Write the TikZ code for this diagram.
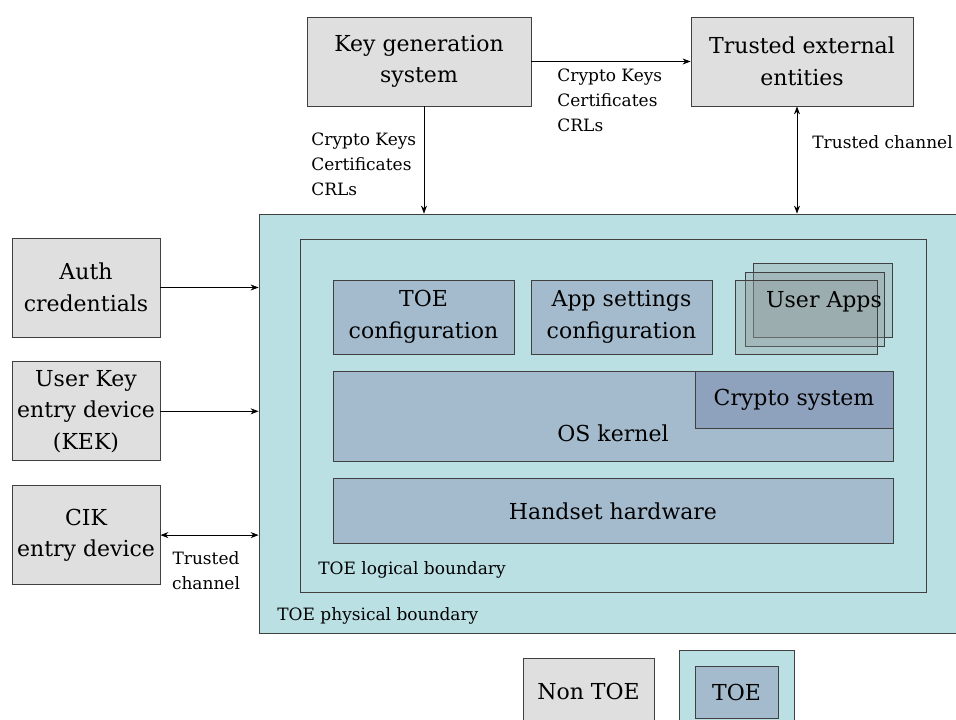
\documentclass[tikz,border=0pt]{standalone}
\usepackage{fontspec}
\setmainfont{DejaVu Serif}
\definecolor{ext}{HTML}{DFDFDF}
\definecolor{phys}{HTML}{BAE0E3}
\definecolor{part}{HTML}{A4BBCE}
\definecolor{cry}{HTML}{8FA2BD}
\definecolor{card}{HTML}{8C9494}
\definecolor{rim}{HTML}{404040}
\usetikzlibrary{
  arrows.meta,     % arrow tips
  positioning      % positions like below of node
}
\tikzset{
    x=1pt, y=-1pt,
    node distance=24pt and 24pt,
    box/.style = {
        rectangle,
        draw=rim,
        line width=0.8pt,
        align=center,
        inner sep=0pt,
        font=\fontsize{22}{31.5}\selectfont
    },
    nontoe/.style = {box, fill=ext},
    toepart/.style = {box, fill=part},
    cryptobox/.style = {box, fill=cry},
    appcard/.style = {box, fill=card, fill opacity=0.3},
    boundary/.style = {rectangle, draw=rim, line width=0.8pt, fill=phys, inner sep=0pt},
    bigtext/.style = {inner sep=0pt, font=\fontsize{22}{31.5}\selectfont},
    lbl/.style = {inner sep=0pt, align=left, font=\fontsize{17}{25}\selectfont},
    ->,        % arrows for all
    >={Stealth[length=8pt,width=6pt]}  % arrow type
}

\begin{document}
\begin{tikzpicture}[line width=0.8pt]
  \useasboundingbox (0,0) rectangle (956,720);

  %% external entities at the top
  \node [nontoe, minimum width=224, minimum height=89] (keygen) at (419,61.5) {Key generation\\system};
  \node [nontoe, minimum width=222, minimum height=89] (trusted) at (802,61.5) {Trusted external\\entities};
  \draw (keygen) to (trusted);
  \node [lbl, anchor=west] (keyslbl) at (557,100) {Crypto Keys\\Certificates\\CRLs};

  %% TOE boundaries
  \node [boundary, minimum width=701, minimum height=419] (phys) at (609.5,423.5) {};
  \node [boundary, minimum width=626, minimum height=353] (logic) at (613,415.5) {};
  \node [lbl, anchor=west] (physlbl) at (277,616) {TOE physical boundary};
  \node [lbl, anchor=west] (logiclbl) at (318,570) {TOE logical boundary};

  %% keys and channel into the TOE
  \draw ([xshift=5pt]keygen.south) to ([xshift=5pt]keygen.south |- phys.north);
  \node [lbl, anchor=west] (downlbl) at (311,164) {Crypto Keys\\Certificates\\CRLs};
  \draw [<->] ([xshift=-5pt]trusted.south) to ([xshift=-5pt]trusted.south |- phys.north);
  \node [lbl, anchor=west] (chanlbl) at (812,142) {Trusted channel};

  %% TOE components
  \node [toepart, minimum width=181, minimum height=74] (toecfg) at (423.5,317) {TOE\\configuration};
  \node [toepart, minimum width=181, minimum height=74] (appcfg) at (621.5,317) {App settings\\configuration};

  \node [appcard, minimum width=139, minimum height=74] (appsC) at (823,300) {};
  \node [appcard, minimum width=139, minimum height=74] (appsB) at (815,309) {};
  \node [appcard, minimum width=142, minimum height=74] (appsA) at (806,317) {};
  \node [bigtext] (appslbl) at (824,302) {User Apps};

  \node [toepart, minimum width=560, minimum height=90] (os) at (613,416) {};
  \node [bigtext] (oslbl) at (613,433) {OS kernel};
  \node [cryptobox, minimum width=198, minimum height=57] (crypto) at (794,400) {Crypto system};
  \node [toepart, minimum width=560, minimum height=65] (hw) at (613,511) {Handset hardware};

  %% devices on the left
  \node [nontoe, minimum width=148, minimum height=99] (auth) at (86,287.5) {Auth\\credentials};
  \node [nontoe, minimum width=148, minimum height=99, below=of auth] (userkey) {User Key\\entry device\\(KEK)};
  \node [nontoe, minimum width=148, minimum height=99, below=of userkey] (cik) {CIK\\entry device};

  \draw (auth) to (auth -| phys.west);
  \draw (userkey) to (userkey -| phys.west);
  \draw [<->] (cik) to (cik -| phys.west);
  \node [lbl, align=center] (ciklbl) at (206,571) {Trusted\\channel};

  %% legend
  \node [nontoe, minimum width=131, minimum height=67] (legnon) at (588.5,691.5) {Non TOE};
  \node [boundary, minimum width=115, minimum height=75] (legphys) at (736.5,687.5) {};
  \node [toepart, minimum width=83, minimum height=52] (legtoe) at (736.5,692) {TOE};

\end{tikzpicture}
\end{document}
